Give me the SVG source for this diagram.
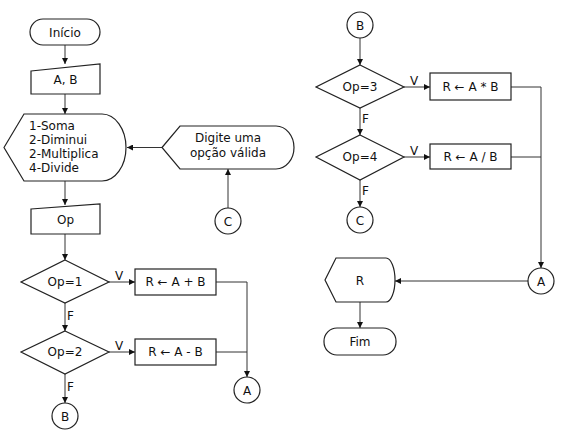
<svg xmlns="http://www.w3.org/2000/svg" width="561" height="433" viewBox="0 0 561 433">
<defs>
<marker id="ah" viewBox="0 0 6 6" refX="6" refY="3" markerWidth="6" markerHeight="6" markerUnits="userSpaceOnUse" orient="auto">
<path d="M0,0 L6,3 L0,6 Z" fill="#111"/>
</marker>
</defs>
<style>
.s{fill:#fff;stroke:#222;stroke-width:1.2}
.t{font-family:"DejaVu Sans",Verdana,sans-serif;font-size:12px;fill:#111}
.c{text-anchor:middle}
.l{fill:none;stroke:#333;stroke-width:1}
.a{fill:none;stroke:#333;stroke-width:1;marker-end:url(#ah)}
</style>
<rect width="561" height="433" fill="#fff"/>
<g id="connectors">
<line class="a" x1="65" y1="45" x2="65" y2="64"/>
<line class="a" x1="65" y1="94" x2="65" y2="114"/>
<line class="a" x1="65" y1="181" x2="65" y2="205"/>
<line class="a" x1="65" y1="234" x2="65" y2="260"/>
<line class="a" x1="109" y1="282" x2="135" y2="282"/>
<line class="a" x1="65" y1="303" x2="65" y2="331"/>
<line class="a" x1="109" y1="352" x2="135" y2="352"/>
<line class="a" x1="65" y1="374" x2="65" y2="403"/>
<polyline class="l" points="216,282 247,282 247,352"/>
<line class="l" x1="216" y1="352" x2="247" y2="352"/>
<line class="a" x1="247" y1="352" x2="247" y2="377"/>
<line class="a" x1="162" y1="147.5" x2="127" y2="147.5"/>
<line class="a" x1="228" y1="208" x2="228" y2="169"/>
<line class="a" x1="360" y1="38" x2="360" y2="65"/>
<line class="a" x1="404" y1="87" x2="430" y2="87"/>
<line class="a" x1="360" y1="108" x2="360" y2="135"/>
<line class="a" x1="404" y1="157" x2="430" y2="157"/>
<line class="a" x1="360" y1="180" x2="360" y2="207"/>
<polyline class="l" points="511,87 541,87 541,157"/>
<line class="l" x1="511" y1="157" x2="541" y2="157"/>
<line class="a" x1="541" y1="157" x2="541" y2="268"/>
<line class="a" x1="528" y1="281" x2="395" y2="281"/>
<line class="a" x1="360" y1="302" x2="360" y2="328"/>
<text class="t" x="115" y="280">V</text>
<text class="t" x="67" y="320">F</text>
<text class="t" x="115" y="350">V</text>
<text class="t" x="67" y="391">F</text>
<text class="t" x="410" y="85">V</text>
<text class="t" x="362" y="123">F</text>
<text class="t" x="410" y="155">V</text>
<text class="t" x="362" y="195">F</text>
</g>
<g id="inicio">
<rect class="s" x="30" y="19" width="70" height="26" rx="13"/>
<text class="t c" x="65" y="36.5">Início</text>
</g>
<g id="input-ab">
<polygon class="s" points="31,71 100,64 100,94 31,94"/>
<text class="t c" x="65.5" y="84">A, B</text>
</g>
<g id="menu">
<path class="s" d="M4,147.5 L24,114 L102,114 A24 33.5 0 0 1 102 181 L24,181 Z"/>
<text class="t" x="29" y="130">1-Soma</text>
<text class="t" x="29" y="144">2-Diminui</text>
<text class="t" x="29" y="158">2-Multiplica</text>
<text class="t" x="29" y="172">4-Divide</text>
</g>
<g id="digite">
<path class="s" d="M162,147.5 L180,126 L276,126 A18 21.5 0 0 1 276 169 L180,169 Z"/>
<text class="t c" x="228" y="142">Digite uma</text>
<text class="t c" x="228" y="157">opção válida</text>
</g>
<g id="c-left">
<circle class="s" cx="228" cy="221" r="13"/>
<text class="t c" x="228" y="225.5">C</text>
</g>
<g id="input-op">
<polygon class="s" points="31,209 100,204 100,234 31,234"/>
<text class="t c" x="65.5" y="224">Op</text>
</g>
<g id="op1">
<polygon class="s" points="65,260 109,282 65,303 21,282"/>
<text class="t c" x="65" y="286">Op=1</text>
</g>
<g id="soma">
<rect class="s" x="135" y="269" width="81" height="26"/>
<text class="t c" x="175.5" y="286">R ← A + B</text>
</g>
<g id="op2">
<polygon class="s" points="65,331 109,352 65,374 21,352"/>
<text class="t c" x="65" y="356">Op=2</text>
</g>
<g id="subtrai">
<rect class="s" x="135" y="339" width="81" height="26"/>
<text class="t c" x="175.5" y="356">R ← A - B</text>
</g>
<g id="b-left">
<circle class="s" cx="65" cy="416" r="13"/>
<text class="t c" x="65" y="420.5">B</text>
</g>
<g id="a-left">
<circle class="s" cx="247" cy="390" r="13"/>
<text class="t c" x="247" y="394.5">A</text>
</g>
<g id="b-right">
<circle class="s" cx="360" cy="25" r="13"/>
<text class="t c" x="360" y="29.5">B</text>
</g>
<g id="op3">
<polygon class="s" points="360,65 404,87 360,108 316,87"/>
<text class="t c" x="360" y="91">Op=3</text>
</g>
<g id="multiplica">
<rect class="s" x="430" y="73" width="81" height="27"/>
<text class="t c" x="470.5" y="91">R ← A * B</text>
</g>
<g id="op4">
<polygon class="s" points="360,135 404,157 360,180 316,157"/>
<text class="t c" x="360" y="161">Op=4</text>
</g>
<g id="divide">
<rect class="s" x="430" y="144" width="81" height="25"/>
<text class="t c" x="470.5" y="161">R ← A / B</text>
</g>
<g id="c-right">
<circle class="s" cx="360" cy="220" r="13"/>
<text class="t c" x="360" y="224.5">C</text>
</g>
<g id="a-right">
<circle class="s" cx="541" cy="281" r="13"/>
<text class="t c" x="541" y="285.5">A</text>
</g>
<g id="r-display">
<path class="s" d="M325,280 L336,258 L386,258 A9 22 0 0 1 386 302 L336,302 Z"/>
<text class="t c" x="360" y="284.5">R</text>
</g>
<g id="fim">
<rect class="s" x="324" y="328" width="72" height="27" rx="13"/>
<text class="t c" x="360" y="346">Fim</text>
</g>
</svg>
